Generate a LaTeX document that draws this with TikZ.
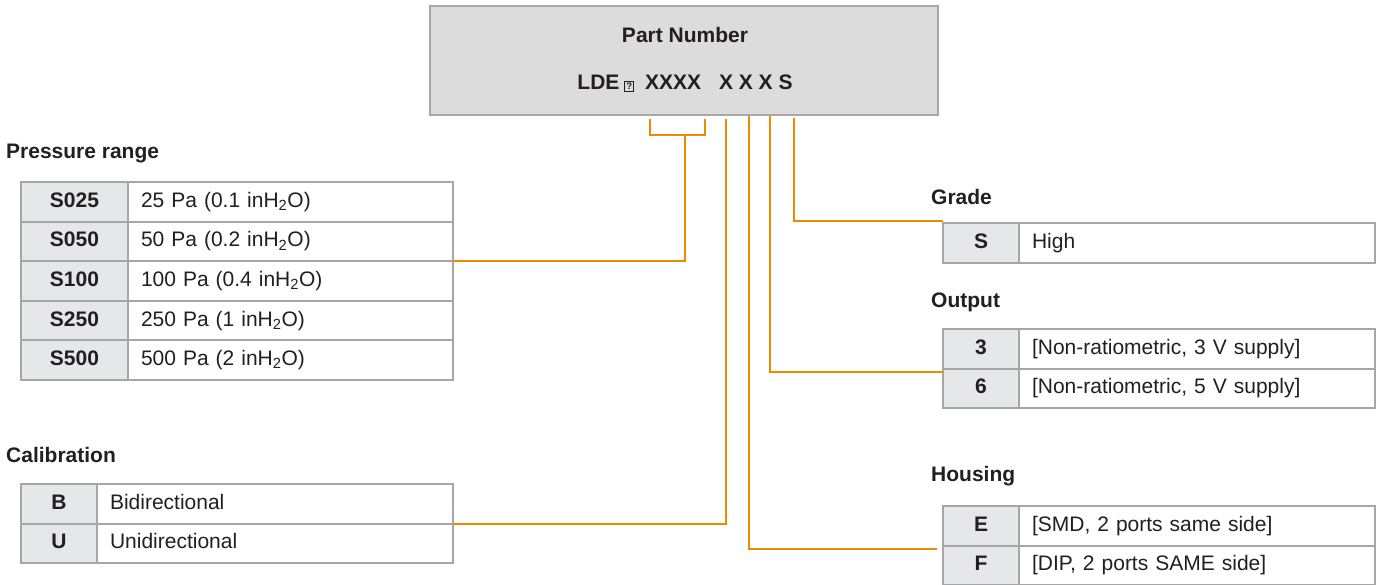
\documentclass[tikz,border=0pt]{standalone}
\usepackage{fontspec}
\setmainfont{Liberation Sans}
\usetikzlibrary{calc}
\definecolor{orng}{RGB}{238,138,0}
\definecolor{tgrey}{RGB}{166,166,166}
\definecolor{kfill}{RGB}{230,231,232}
\definecolor{boxfill}{RGB}{220,220,220}
\definecolor{boxline}{RGB}{168,168,168}
\definecolor{txt}{RGB}{35,31,32}
\newcommand{\qglyph}{{\setlength\fboxsep{1.2pt}\setlength\fboxrule{0.7pt}\fbox{\fontsize{9.5}{9.5}\selectfont\bfseries ?}}}
\begin{document}
\begin{tikzpicture}[x=1pt,y=-1pt,
  every node/.style={font=\fontsize{21}{25}\selectfont, text=txt},
  title/.style={anchor=west, inner sep=0pt, font=\bfseries\fontsize{21}{25}\selectfont},
  keycell/.style={draw=tgrey, fill=kfill, line width=2pt, outer sep=0pt, inner sep=0pt,
    minimum height=39.6pt, font=\bfseries\fontsize{21}{25}\selectfont, anchor=north west,
    text height=15pt, text depth=4pt},
  valcell/.style={draw=tgrey, fill=white, line width=2pt, outer sep=0pt, inner xsep=13pt,
    inner ysep=0pt, minimum height=39.6pt, text width=#1, align=left, anchor=north west,
    text height=15pt, text depth=4pt},
  conn/.style={draw=orng, line width=2pt}]
\useasboundingbox (0,0) rectangle (1380,584);

% part number box
\node[draw=boxline, fill=boxfill, line width=1.6pt, minimum width=508pt, minimum height=109pt,
  anchor=north west, outer sep=0pt, inner sep=0pt] (pn) at (430,6) {};
\node[font=\bfseries\fontsize{21}{25}\selectfont] (pnt) at (685,35) {Part Number};
\node[font=\bfseries\fontsize{21}{25}\selectfont] (code) at (685,83)
  {LDE\hspace{5pt}\qglyph\hspace{11pt}XXXX\hspace{18pt}X X X S};

% connector start points
\coordinate (t1) at (650,119);
\coordinate (t2) at (705,119);
\coordinate (bj) at (685,135);
\coordinate (t3) at (726,119);
\coordinate (t4) at (749,116);
\coordinate (t5) at (770,116);
\coordinate (t6) at (794,118);

% Pressure range
\node[title] (prt) at (6,153) {Pressure range};
\node[keycell, minimum width=107pt] (p1k) at (21,182) {S025};
\node[valcell=299pt] (p1v) at (p1k.north east) {25 Pa (0.1 inH\textsubscript{2}O)};
\node[keycell, minimum width=107pt] (p2k) at (p1k.south west) {S050};
\node[valcell=299pt] (p2v) at (p2k.north east) {50 Pa (0.2 inH\textsubscript{2}O)};
\node[keycell, minimum width=107pt] (p3k) at (p2k.south west) {S100};
\node[valcell=299pt] (p3v) at (p3k.north east) {100 Pa (0.4 inH\textsubscript{2}O)};
\node[keycell, minimum width=107pt] (p4k) at (p3k.south west) {S250};
\node[valcell=299pt] (p4v) at (p4k.north east) {250 Pa (1 inH\textsubscript{2}O)};
\node[keycell, minimum width=107pt] (p5k) at (p4k.south west) {S500};
\node[valcell=299pt] (p5v) at (p5k.north east) {500 Pa (2 inH\textsubscript{2}O)};

% Calibration
\node[title] (calt) at (6,455) {Calibration};
\node[keycell, minimum width=76pt] (c1k) at (21,484) {B};
\node[valcell=330pt] (c1v) at (c1k.north east) {Bidirectional};
\node[keycell, minimum width=76pt] (c2k) at (c1k.south west) {U};
\node[valcell=330pt] (c2v) at (c2k.north east) {Unidirectional};

% Grade
\node[title] (grt) at (931,197) {Grade};
\node[keycell, minimum width=76pt] (g1k) at (943,223) {S};
\node[valcell=330pt] (g1v) at (g1k.north east) {High};

% Output
\node[title] (outt) at (931,302) {Output};
\node[keycell, minimum width=76pt] (o1k) at (943,329) {3};
\node[valcell=330pt] (o1v) at (o1k.north east) {[Non-ratiometric, 3 V supply]};
\node[keycell, minimum width=76pt] (o2k) at (o1k.south west) {6};
\node[valcell=330pt] (o2v) at (o2k.north east) {[Non-ratiometric, 5 V supply]};

% Housing
\node[title] (hout) at (931,476) {Housing};
\node[keycell, minimum width=76pt] (h1k) at (943,506) {E};
\node[valcell=330pt] (h1v) at (h1k.north east) {[SMD, 2 ports same side]};
\node[keycell, minimum width=76pt] (h2k) at (h1k.south west) {F};
\node[valcell=330pt] (h2v) at (h2k.north east) {[DIP, 2 ports SAME side]};

% connectors
\draw[conn] (t1) |- (bj) -| (t2);
\draw[conn] (bj) |- (p2v.south east);
\draw[conn] (t3) |- (c1v.south east);
\draw[conn] (t4) |- ($(h1k.south west)+(-6,3)$);
\draw[conn] (t5) |- ($(o1k.south west)+(0,3)$);
\draw[conn] (t6) |- ($(g1k.north west)+(0,-2)$);
\end{tikzpicture}
\end{document}
